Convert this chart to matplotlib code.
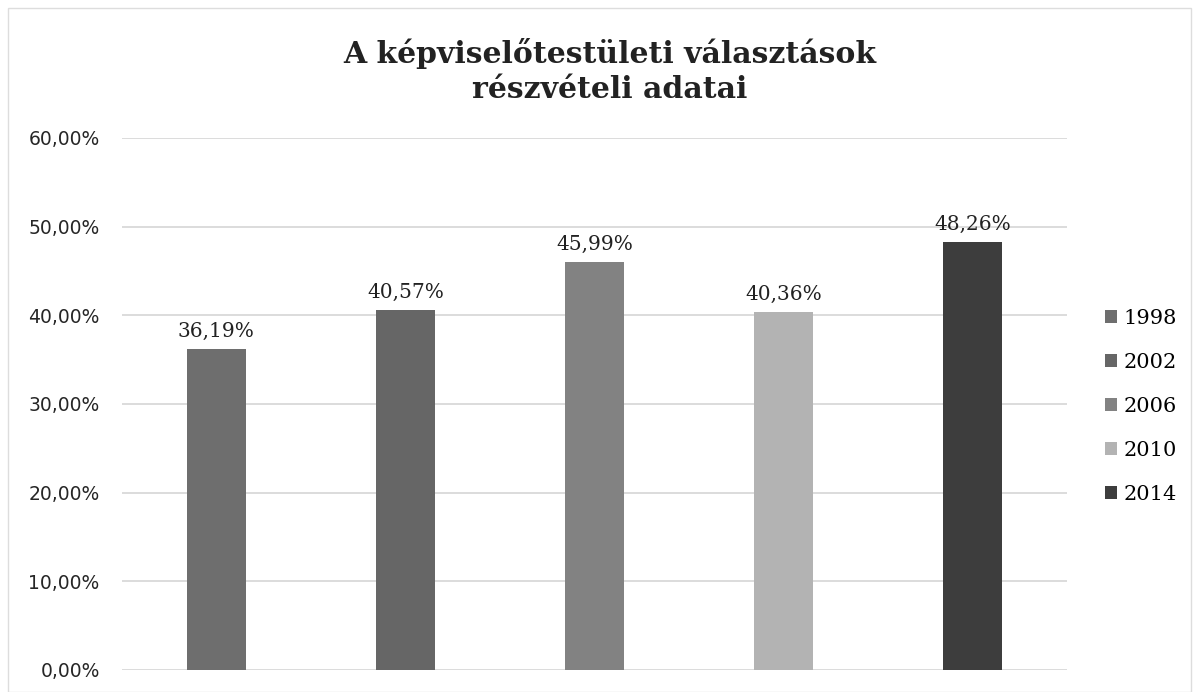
import matplotlib.pyplot as plt
from matplotlib.ticker import FuncFormatter

years = ['1998', '2002', '2006', '2010', '2014']
turnout = [36.19, 40.57, 45.99, 40.36, 48.26]
colors = ['#6e6e6e', '#666666', '#828282', '#b3b3b3', '#3d3d3d']

fig = plt.figure(figsize=(11.95, 6.92), dpi=100)
ax = fig.add_axes([0.102, 0.032, 0.791, 0.7686])

x = range(len(years))
bars = ax.bar(x, turnout, width=0.31, color=colors, label=years, zorder=3)

for b, v in zip(bars, turnout):
    ax.annotate(f'{v:.2f}%'.replace('.', ','), (b.get_x() + b.get_width() / 2, v),
                xytext=(0, 6), textcoords='offset points', ha='center', va='bottom',
                fontsize=14.5, family='DejaVu Serif', color='#222222')

ax.set_ylim(0, 60)
ax.set_xlim(-0.5, 4.5)
ax.set_yticks(range(0, 61, 10))
ax.yaxis.set_major_formatter(FuncFormatter(lambda v, p: f'{v:.2f}%'.replace('.', ',')))
ax.tick_params(axis='y', length=0, pad=16, labelsize=13.5, labelcolor='#262626')
ax.set_xticks([])
ax.grid(axis='y', color='#d9d9d9', linewidth=1.3, zorder=0)
for s in ax.spines.values():
    s.set_visible(False)

fig.suptitle('A képviselőtestületi választások\nrészvételi adatai', x=0.51, y=0.945,
             fontsize=21.5, fontweight='bold', family='DejaVu Serif', color='#222222',
             linespacing=1.25)

ax.legend(loc='center left', bbox_to_anchor=(1.02, 0.495), frameon=False,
          prop={'family': 'DejaVu Serif', 'size': 15}, handlelength=0.6,
          handleheight=0.6, handletextpad=0.3, labelspacing=1.2)

fig.patches.append(plt.Rectangle((0.007, 0.0), 0.99, 0.988, transform=fig.transFigure,
                                 fill=False, edgecolor='#dddddd', linewidth=1))

fig.savefig('out.png')
